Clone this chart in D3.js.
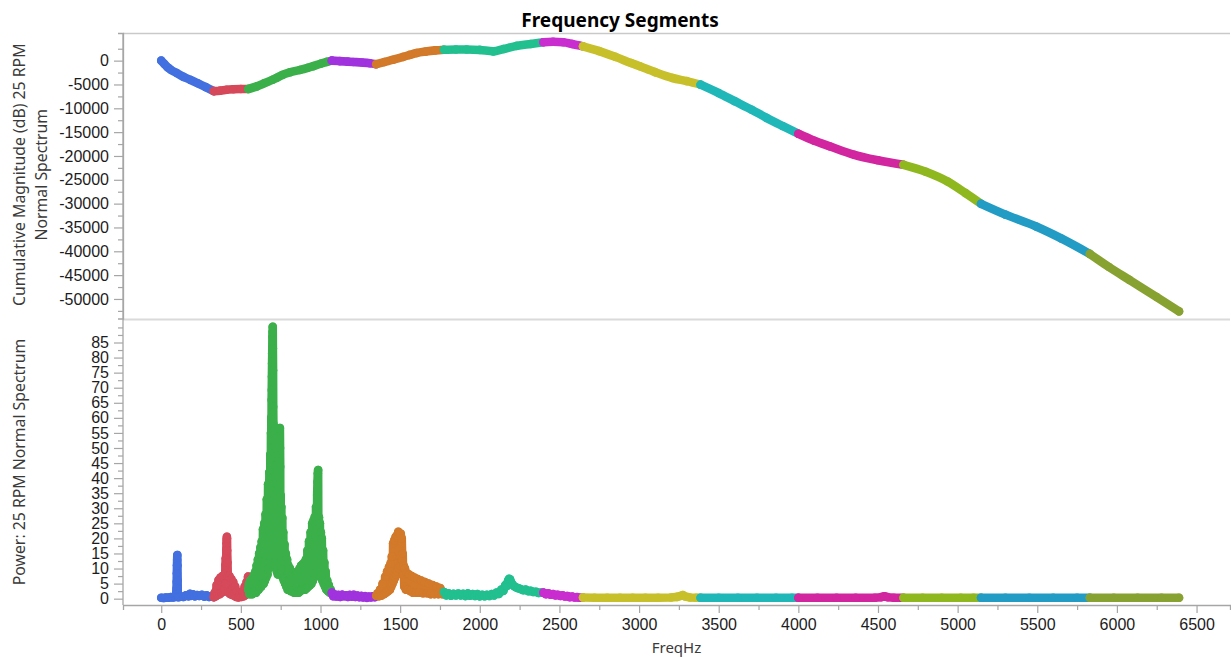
<!DOCTYPE html>
<html>
<head>
<meta charset="utf-8">
<script src="https://cdn.jsdelivr.net/npm/d3@7"></script>
<style>
  body { margin: 0; background: #fff; }
  svg { display: block; font-family: "Noto Sans", "Open Sans", sans-serif; }
</style>
</head>
<body>
<svg id="chart" width="1231" height="657"></svg>
<script>
// Frequency segments: start frequency (Hz) of each band and its colour
const segmentStarts = [0, 330, 547, 1071, 1350, 1775, 2399, 2648, 3386, 4000, 4660, 5147, 5830];
const segmentColors = ["#4370E0", "#D5495A", "#3BB04A", "#A033DD", "#D2792A", "#22BF8F", "#C92DCF",
                       "#C7C02A", "#20B7B8", "#D1269F", "#8FB81F", "#229CC5", "#88A232"];

// Cumulative magnitude (dB) of the 25 RPM normal spectrum: [FreqHz, value]
const cumulativeMagnitude = [
  [0, 0], [20, -700], [40, -1400], [60, -1900], [97, -2600], [140, -3400], [181, -4000], [230, -4750], [280, -5550], [330, -6400],
  [370, -6300], [410, -6100], [453, -6000], [500, -5950],
  [547, -5950], [600, -5400], [650, -4700], [700, -4000], [725, -3600], [760, -3000], [808, -2450], [871, -1950], [920, -1500], [955, -1150], [1000, -650], [1040, -250],
  [1071, 0], [1120, -100], [1170, -200], [1206, -280], [1260, -400], [1310, -550],
  [1350, -750], [1400, -300], [1457, 200], [1520, 800], [1560, 1200], [1604, 1600], [1660, 1900], [1720, 2150],
  [1775, 2300], [1850, 2350], [1918, 2350], [2000, 2250], [2085, 1950], [2150, 2450], [2232, 3100], [2320, 3500],
  [2399, 3850], [2460, 3950], [2524, 3850], [2580, 3500],
  [2648, 3000], [2750, 2000], [2850, 800], [2950, -500], [3005, -1190], [3100, -2400], [3210, -3640], [3300, -4300],
  [3386, -5040], [3500, -6800], [3600, -8500], [3707, -10300], [3800, -12000], [3900, -13700],
  [4000, -15340], [4100, -16800], [4200, -18000], [4351, -19750], [4500, -20900],
  [4660, -21850], [4800, -23300], [4937, -25350], [5050, -27800],
  [5147, -30040], [5300, -32300], [5493, -34800], [5650, -37300],
  [5830, -40550], [5950, -43300], [6078, -46000], [6250, -49600], [6390, -52600]
];

// Power of the 25 RPM normal spectrum: [FreqHz, power]
const powerSpectrum = [
  // band 1
  [0, 0.3], [15, 0.2], [30, 0.4], [45, 0.3], [60, 0.5], [75, 0.4], [88, 0.6], [94, 1.8], [96, 3.4], [97, 5.6], [98, 8.4], [99, 11.1],
  [100, 12.8], [101, 14.5], [102, 11], [103, 6], [104, 1.5], [110, 0.5], [125, 0.7], [140, 0.6], [155, 1.1], [170, 0.8], [180, 1.6],
  [190, 1.0], [200, 1.4], [212, 0.8], [225, 1.2], [240, 0.9], [255, 1.3], [270, 0.7], [285, 1.1], [300, 0.6], [315, 0.9],
  // band 2
  [330, 0.5], [336, 2], [342, 0.8], [348, 4.5], [354, 1.2], [360, 6.2], [366, 1.5], [372, 7], [378, 2], [384, 7.5], [390, 2.5],
  [396, 7.8], [400, 3], [403, 11.2], [405, 13.4], [406, 5], [408, 12.8], [409, 16.4], [410, 18.4], [411, 19.5], [412, 20.5],
  [413, 20], [414, 16], [416, 12], [418, 7.5], [422, 2], [428, 7.5], [434, 1.5], [440, 6.5], [446, 1.2], [452, 5.5], [458, 1],
  [464, 4], [470, 0.6], [476, 2.5], [484, 0.4], [494, 1.2], [504, 0.6], [512, 2.5], [518, 0.8], [524, 4], [530, 1.2], [536, 5.5],
  [541, 2], [545, 7.3],
  // band 3
  [547, 3], [551, 5], [555, 1.5], [559, 6], [563, 2], [567, 6.5], [571, 1.5], [575, 7], [579, 2], [583, 8], [587, 2.5], [591, 9],
  [595, 2], [599, 11], [603, 3], [607, 13], [611, 3], [615, 15], [619, 4], [623, 17], [627, 4], [631, 19], [635, 5], [639, 23],
  [643, 5], [647, 25], [651, 6], [655, 28], [659, 7], [663, 33], [667, 8], [671, 38], [675, 10], [679, 42], [682, 12], [685, 48],
  [687, 20], [689, 55], [690, 30], [691, 60.3], [692, 40], [693, 65.9], [694, 69.2], [695, 73.6], [696, 78], [697, 81.4],
  [698, 86.9], [699, 88.5], [700, 90.2], [701, 83], [702, 75.8], [703, 63.7], [704, 58.2], [705, 50.4], [706, 40], [707, 55.9],
  [708, 30], [709, 47.1], [711, 20], [713, 44], [715, 12], [717, 40], [720, 10], [723, 38], [726, 9], [729, 36], [732, 8],
  [735, 38], [738, 10], [741, 45.4], [743, 53.7], [745, 56.6], [746, 50], [747, 43.8], [748, 12], [750, 34.4], [752, 10],
  [754, 30.5], [757, 8], [760, 26.8], [763, 7], [766, 22], [770, 6], [774, 18], [778, 5], [782, 15], [786, 4], [790, 13],
  [794, 3], [798, 11], [803, 3], [808, 10], [813, 2.5], [818, 9], [823, 2.5], [828, 8.5], [833, 2], [838, 8], [843, 2], [848, 8],
  [853, 2], [858, 9], [863, 2], [868, 10], [873, 2.5], [878, 11], [883, 3], [888, 11.5], [893, 3], [898, 12], [903, 3], [908, 13],
  [913, 3.5], [918, 16], [923, 4], [928, 19], [933, 4.5], [938, 22], [943, 5], [948, 25], [952, 6], [956, 26], [960, 7],
  [964, 27.2], [968, 8], [972, 30.5], [976, 9], [979, 34.4], [981, 38.8], [983, 41.6], [985, 42.7], [987, 12], [990, 27],
  [993, 10], [996, 25], [999, 8], [1002, 22], [1005, 7], [1008, 20], [1012, 6], [1016, 16], [1020, 5], [1024, 12], [1028, 4],
  [1032, 9], [1037, 3], [1042, 6], [1047, 2.5], [1052, 4.5], [1058, 2], [1064, 3],
  // band 4
  [1071, 2], [1080, 0.8], [1090, 1.4], [1100, 0.7], [1112, 1.2], [1124, 0.6], [1136, 1.3], [1148, 0.8], [1160, 1.1], [1172, 0.6],
  [1184, 1.2], [1196, 0.7], [1208, 1.3], [1220, 0.6], [1232, 1.0], [1244, 0.5], [1256, 0.9], [1268, 0.4], [1280, 0.8], [1292, 0.3],
  [1304, 0.7], [1316, 0.4], [1328, 0.8], [1340, 0.5],
  // band 5
  [1350, 1], [1358, 1.8], [1366, 0.8], [1374, 3], [1382, 1], [1390, 5], [1398, 1.5], [1406, 7.3], [1412, 2], [1418, 9],
  [1424, 2.5], [1430, 10.5], [1436, 3], [1440, 11.7], [1444, 4], [1448, 14], [1452, 5], [1456, 18.4], [1460, 6], [1464, 19.5],
  [1468, 7], [1472, 20.5], [1476, 8], [1480, 21], [1484, 9], [1488, 22.2], [1492, 10], [1496, 21.8], [1500, 11], [1504, 21.5],
  [1507, 12], [1510, 20], [1513, 12.8], [1516, 15], [1519, 8], [1522, 11], [1526, 4], [1530, 10], [1536, 3], [1542, 8.5],
  [1548, 3], [1556, 8], [1564, 2.5], [1572, 7.5], [1580, 2], [1590, 7], [1600, 2], [1610, 6.5], [1620, 2], [1632, 6],
  [1644, 1.8], [1656, 5.5], [1668, 1.8], [1680, 5], [1692, 1.5], [1704, 4.5], [1716, 1.5], [1728, 4], [1740, 1.5], [1752, 3.5],
  [1764, 1.5],
  // band 6
  [1775, 2.2], [1790, 1.1], [1805, 1.7], [1820, 1.0], [1835, 1.6], [1850, 1.1], [1865, 1.7], [1880, 1.1], [1895, 1.6], [1910, 0.9],
  [1925, 1.7], [1940, 1.0], [1955, 1.5], [1970, 0.9], [1985, 1.5], [2000, 0.8], [2015, 1.3], [2030, 0.8], [2045, 1.3], [2060, 0.9],
  [2075, 1.5], [2090, 1.1], [2105, 2], [2120, 1.6], [2135, 3], [2148, 2.6], [2160, 4.5], [2170, 4.2], [2178, 6], [2184, 6.6],
  [2190, 6.4], [2196, 5.5], [2204, 4.8], [2214, 4.2], [2226, 3.8], [2240, 3.5], [2256, 3.2], [2272, 2.8], [2288, 3], [2304, 2.5],
  [2320, 2.6], [2336, 2.2], [2352, 2.3], [2368, 1.9], [2384, 2],
  // band 7
  [2399, 2], [2415, 1.5], [2430, 1.8], [2445, 1.3], [2460, 1.5], [2475, 1.1], [2490, 1.3], [2505, 0.9], [2520, 1.1], [2535, 0.7],
  [2550, 0.9], [2565, 0.5], [2580, 0.7], [2595, 0.4], [2610, 0.5], [2625, 0.3],
  // bands 8-13
  [2648, 0.4], [2720, 0.3], [2800, 0.3], [2880, 0.3], [2960, 0.3], [3040, 0.3], [3120, 0.3], [3200, 0.4], [3240, 0.6], [3260, 0.9],
  [3275, 1.2], [3290, 0.7], [3320, 0.4], [3360, 0.3],
  [3386, 0.3], [3500, 0.3], [3620, 0.3], [3740, 0.3], [3860, 0.3], [3960, 0.3],
  [4000, 0.3], [4120, 0.3], [4240, 0.3], [4360, 0.3], [4480, 0.3], [4520, 0.5], [4540, 0.8], [4560, 0.5], [4600, 0.3],
  [4660, 0.3], [4780, 0.3], [4900, 0.3], [5020, 0.3], [5100, 0.3],
  [5147, 0.3], [5300, 0.3], [5450, 0.3], [5600, 0.3], [5750, 0.3],
  [5830, 0.3], [5980, 0.3], [6130, 0.3], [6280, 0.3], [6390, 0.3]
];

// Axis ticks
const freqTicks = d3.range(0, 6501, 500);
const freqMinorTicks = d3.range(250, 6501, 500);
const magTicks = d3.range(-50000, 1, 5000);
const magMinorTicks = d3.range(-52500, 2501, 5000);
const powerTicks = d3.range(0, 86, 5);
const powerMinorTicks = d3.range(2.5, 91, 5).concat([90]);

const TITLE = "Frequency Segments";
const X_LABEL = "FreqHz";
const MAG_LABEL = ["Cumulative Magnitude (dB) 25 RPM", "Normal Spectrum"];
const POWER_LABEL = "Power: 25 RPM Normal Spectrum";

// ---- layout ----
const left = 123, right = 1230;
const topPanel = { y0: 33, y1: 318.5 };
const botPanel = { y0: 319, y1: 605 };

const svg = d3.select("#chart");

const x = d3.scaleLinear().domain([-240, 6710]).range([left, right]);
const yMag = d3.scaleLinear().domain([-54100, 5800]).range([topPanel.y1, topPanel.y0]);
const yPow = d3.scaleLinear().domain([-2.1, 92.8]).range([botPanel.y1, botPanel.y0]);

const axisColor = "#a6a6a6";
const tickText = "#1c1c1c";
const titleText = "#3a3a3a";

// clip regions for the two panels
const defs = svg.append("defs");
defs.append("clipPath").attr("id", "clipTop").append("rect")
  .attr("x", left).attr("y", topPanel.y0).attr("width", right - left).attr("height", topPanel.y1 - topPanel.y0);
defs.append("clipPath").attr("id", "clipBot").append("rect")
  .attr("x", left).attr("y", botPanel.y0 + 1).attr("width", right - left).attr("height", botPanel.y1 - botPanel.y0 - 1);

// panel frame lines
svg.append("line").attr("x1", left).attr("x2", right).attr("y1", topPanel.y0 + 0.5).attr("y2", topPanel.y0 + 0.5)
  .attr("stroke", "#c9c9c9").attr("stroke-width", 1.5);
svg.append("line").attr("x1", left).attr("x2", right).attr("y1", botPanel.y0 + 0.5).attr("y2", botPanel.y0 + 0.5)
  .attr("stroke", "#dadada").attr("stroke-width", 2);

// split a series into the frequency segments; each part also carries the next point so parts join up
function segmentParts(series) {
  return segmentStarts.map((start, i) => {
    const end = i + 1 < segmentStarts.length ? segmentStarts[i + 1] : Infinity;
    const pts = series.filter(d => d[0] >= start && d[0] < end);
    const next = series.find(d => d[0] >= end);
    const path = next ? pts.concat([next]) : pts;
    return { color: segmentColors[i], pts, path };
  });
}

function drawSeries(g, series, yScale, curve) {
  const line = d3.line().x(d => x(d[0])).y(d => yScale(d[1])).curve(curve);
  segmentParts(series).forEach(p => {
    const sg = g.append("g");
    sg.append("path").attr("d", line(p.path)).attr("fill", "none")
      .attr("stroke", p.color).attr("stroke-width", 8.6)
      .attr("stroke-linecap", "round").attr("stroke-linejoin", "round");
    sg.selectAll("circle").data(p.pts).join("circle")
      .attr("cx", d => x(d[0])).attr("cy", d => yScale(d[1])).attr("r", 4.3)
      .attr("fill", p.color);
  });
}

drawSeries(svg.append("g").attr("clip-path", "url(#clipTop)"), cumulativeMagnitude, yMag, d3.curveMonotoneX);
drawSeries(svg.append("g").attr("clip-path", "url(#clipBot)"), powerSpectrum, yPow, d3.curveLinear);

// ---- axes ----
function styleAxis(g) {
  g.select(".domain").attr("stroke", axisColor).attr("stroke-width", 1.3);
  g.selectAll(".tick line").attr("stroke", axisColor).attr("stroke-width", 1.2);
  g.selectAll(".tick text").attr("fill", tickText).style("font-size", "16px");
}

const fmt = d => String(d);

// top panel y axis
svg.append("g").attr("transform", `translate(${left},0)`)
  .call(d3.axisLeft(yMag).tickValues(magMinorTicks).tickSize(5).tickFormat(""))
  .call(styleAxis);
svg.append("g").attr("transform", `translate(${left},0)`)
  .call(d3.axisLeft(yMag).tickValues(magTicks).tickSize(9).tickPadding(5).tickFormat(fmt))
  .call(styleAxis).call(g => g.select(".domain").remove());
svg.append("line").attr("x1", left).attr("x2", left).attr("y1", topPanel.y0).attr("y2", botPanel.y1)
  .attr("stroke", axisColor).attr("stroke-width", 1.3);

// bottom panel y axis
svg.append("g").attr("transform", `translate(${left},0)`)
  .call(d3.axisLeft(yPow).tickValues(powerMinorTicks).tickSize(5).tickFormat(""))
  .call(styleAxis).call(g => g.select(".domain").remove());
svg.append("g").attr("transform", `translate(${left},0)`)
  .call(d3.axisLeft(yPow).tickValues(powerTicks).tickSize(9).tickPadding(5).tickFormat(fmt))
  .call(styleAxis).call(g => g.select(".domain").remove());

// x axis
svg.append("g").attr("transform", `translate(0,${botPanel.y1})`)
  .call(d3.axisBottom(x).tickValues(freqMinorTicks).tickSize(5).tickFormat(""))
  .call(styleAxis);
svg.append("g").attr("transform", `translate(0,${botPanel.y1})`)
  .call(d3.axisBottom(x).tickValues(freqTicks).tickSize(8).tickPadding(6).tickFormat(fmt))
  .call(styleAxis).call(g => g.select(".domain").remove());

// ---- titles ----
svg.append("text").attr("x", 620).attr("y", 27).attr("text-anchor", "middle")
  .style("font-size", "19px").style("font-weight", "bold").attr("fill", "#000").text(TITLE);

svg.append("text").attr("x", (left + right) / 2).attr("y", 653).attr("text-anchor", "middle")
  .style("font-size", "15px").attr("fill", titleText).text(X_LABEL);

const magMid = (topPanel.y0 + topPanel.y1) / 2;
MAG_LABEL.forEach((t, i) => {
  svg.append("text").attr("transform", `translate(${25 + i * 22},${magMid - 1}) rotate(-90)`)
    .attr("text-anchor", "middle").style("font-size", "15.8px").attr("fill", titleText).text(t);
});
svg.append("text").attr("transform", `translate(25,${(botPanel.y0 + botPanel.y1) / 2}) rotate(-90)`)
  .attr("text-anchor", "middle").style("font-size", "15.8px").attr("fill", titleText).text(POWER_LABEL);
</script>
</body>
</html>
